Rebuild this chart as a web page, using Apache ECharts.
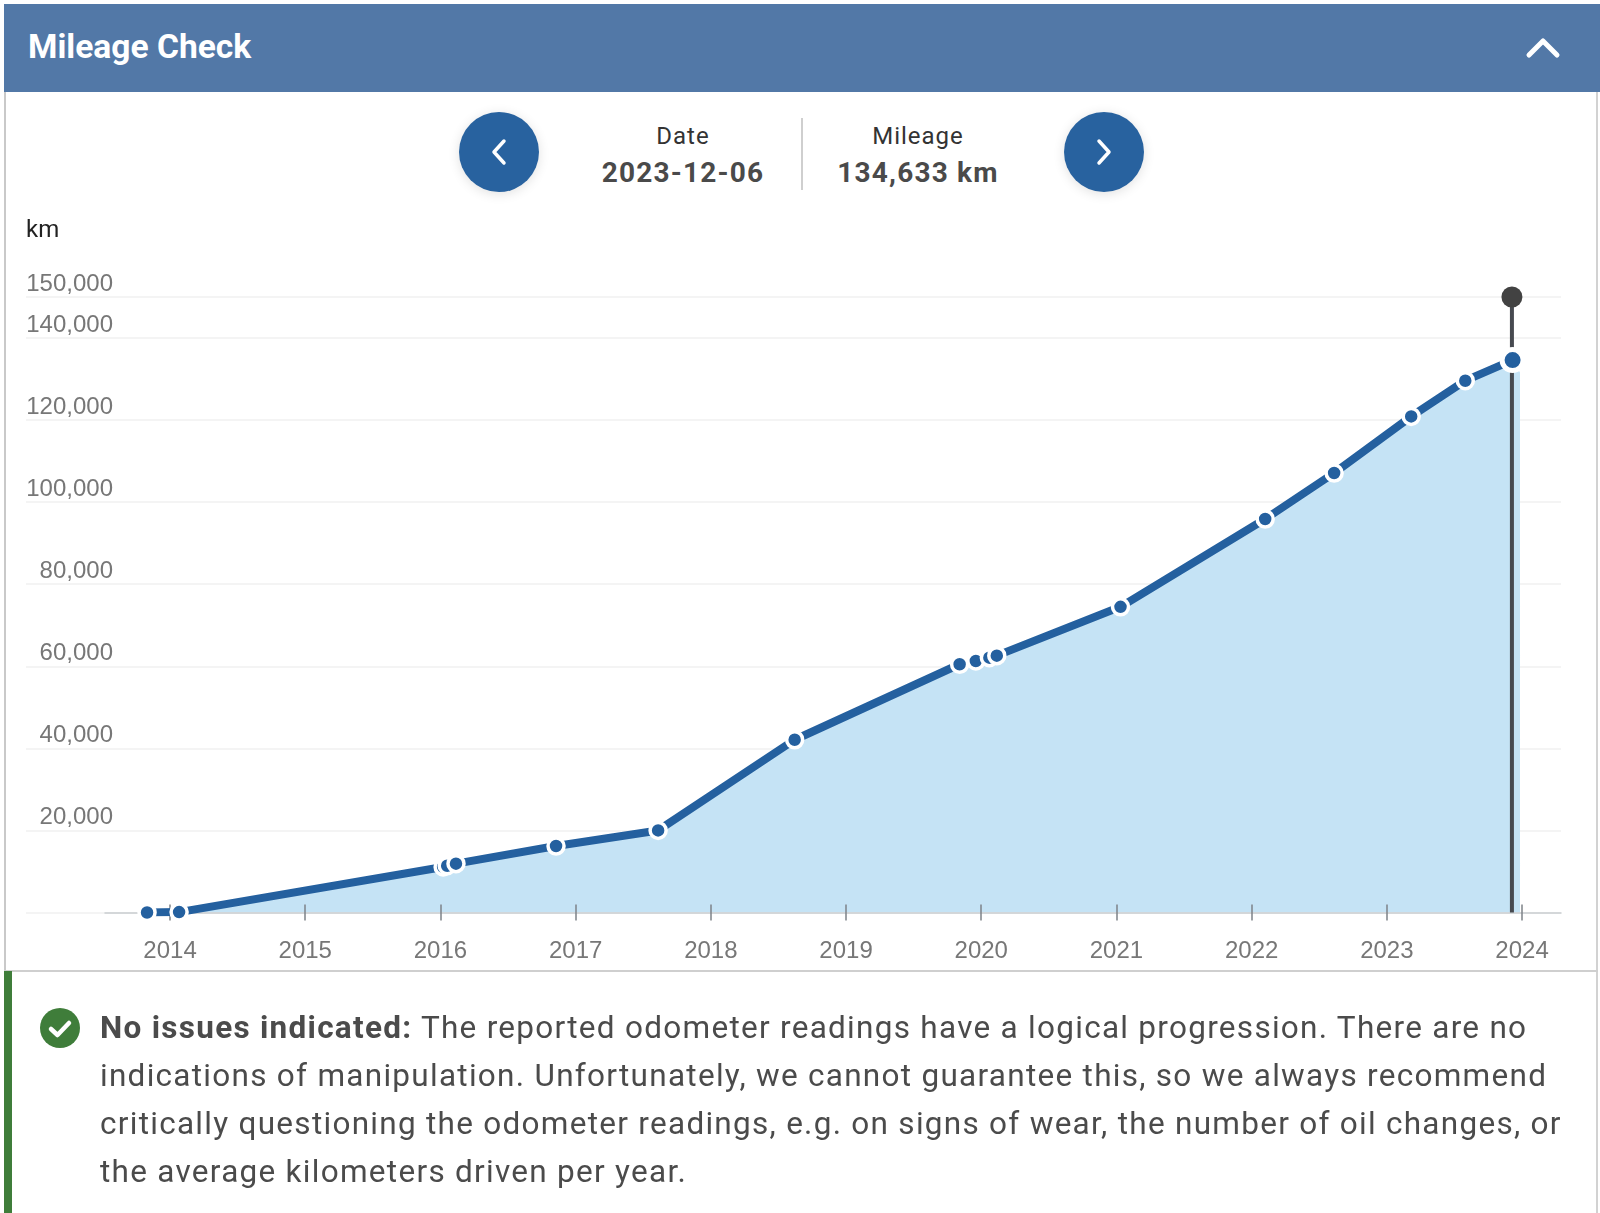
<!DOCTYPE html>
<html><head><meta charset="utf-8">
<script src="https://cdn.jsdelivr.net/npm/echarts@6/dist/echarts.min.js"></script>
<style>
html,body{margin:0;padding:0;background:#fff;width:1600px;height:1213px;overflow:hidden;font-family:Roboto,sans-serif}
.abs{position:absolute;white-space:nowrap}
#chart{position:absolute;left:0;top:0;width:1600px;height:1213px}
.cc{transform:translateX(-50%);text-align:center}
.btn{position:absolute;width:80px;height:80px;border-radius:50%;background:#28629f;box-shadow:0 2px 12px rgba(0,0,0,.12)}
.line{position:absolute;left:100px;font-size:31.5px;letter-spacing:1.28px;color:#4b4b4b;white-space:nowrap;line-height:48px;height:48px}
</style></head><body>
<div class="abs" style="left:4px;top:91px;width:1.5px;height:880px;background:#c9c9c9"></div>
<div class="abs" style="left:1596px;top:91px;width:2px;height:1122px;background:#d2d2d2"></div>
<div class="abs" style="left:4px;top:970px;width:1594px;height:2px;background:#cfcfcf"></div>
<div class="abs" style="left:4px;top:4px;width:1596px;height:88px;background:#5278a7"></div>
<div class="abs" style="left:28px;top:27px;font-size:33.6px;font-weight:700;color:#fff;line-height:40px">Mileage Check</div>
<svg class="abs" style="left:1520px;top:30px" width="46" height="34"><polyline points="9,25 23,11 37,25" fill="none" stroke="#fff" stroke-width="5" stroke-linecap="round" stroke-linejoin="round"/></svg>
<div class="btn" style="left:459px;top:112px"></div>
<svg class="abs" style="left:459px;top:112px" width="80" height="80"><polyline points="45,29 35,40 45,51" fill="none" stroke="#fff" stroke-width="3.5" stroke-linecap="round" stroke-linejoin="round"/></svg>
<div class="btn" style="left:1064px;top:112px"></div>
<svg class="abs" style="left:1064px;top:112px" width="80" height="80"><polyline points="35,29 45,40 35,51" fill="none" stroke="#fff" stroke-width="3.5" stroke-linecap="round" stroke-linejoin="round"/></svg>
<div class="abs cc" style="left:683px;top:122px;font-size:24px;letter-spacing:1px;color:#333;line-height:28px">Date</div>
<div class="abs cc" style="left:683px;top:155px;font-size:28px;font-weight:700;letter-spacing:1.2px;color:#4a4a4a;line-height:36px">2023-12-06</div>
<div class="abs" style="left:801px;top:118px;width:2px;height:72px;background:#cfcfcf"></div>
<div class="abs cc" style="left:918px;top:122px;font-size:24px;letter-spacing:1px;color:#333;line-height:28px">Mileage</div>
<div class="abs cc" style="left:918px;top:155px;font-size:28px;font-weight:700;letter-spacing:1.2px;color:#4a4a4a;line-height:36px">134,633 km</div>
<div id="chart"></div>
<div class="abs" style="left:4px;top:971px;width:8px;height:242px;background:#3f7d3a"></div>
<svg class="abs" style="left:40px;top:1008px" width="40" height="40"><circle cx="20" cy="20" r="20" fill="#3f7d3a"/><polyline points="11,21 17.5,27 29,15" fill="none" stroke="#fff" stroke-width="4.5" stroke-linecap="round" stroke-linejoin="round"/></svg>
<div class="line" style="top:1004px"><b>No issues indicated:</b> The reported odometer readings have a logical progression. There are no</div>
<div class="line" style="top:1052px">indications of manipulation. Unfortunately, we cannot guarantee this, so we always recommend</div>
<div class="line" style="top:1100px">critically questioning the odometer readings, e.g. on signs of wear, the number of oil changes, or</div>
<div class="line" style="top:1148px">the average kilometers driven per year.</div>
<script>
var readingYears = [2013.83,2014.067,2016.02,2016.05,2016.115,2016.855,2017.61,2018.62,2019.84,2019.96,2020.06,2020.115,2021.03,2022.10,2022.61,2023.18,2023.58,2023.93];
var readingKm    = [0,100,11100,11400,11900,16200,20000,42100,60500,61300,62100,62600,74500,95900,107100,120900,129600,134633];
var areaEnd      = [2023.985,131600];
var yearTicks    = [2014,2015,2016,2017,2018,2019,2020,2021,2022,2023,2024];
var cursorYear   = 2023.925;
var cursorTop    = 150000;

var mileage = readingYears.map(function(y,i){return [y,readingKm[i]];});
var area = mileage.slice(1).concat([areaEnd]);
var last = mileage.length-1;
var pts = mileage.map(function(p,i){
  return i===last ? {value:p,symbolSize:21,itemStyle:{borderWidth:5}} : {value:p};
});
var xMin=2013.519, xMax=2024.288;
var labelFont={fontFamily:'"Liberation Sans",Arial,sans-serif',fontSize:24,color:'#777'};
var chart=echarts.init(document.getElementById('chart'),null,{renderer:'canvas'});
chart.setOption({
  animation:false,
  tooltip:{show:false},
  grid:[
    {left:105,right:39,top:297,bottom:300.5,containLabel:false},
    {left:26,width:79,top:297,bottom:300.5,containLabel:false}
  ],
  xAxis:[
    {type:'value',gridIndex:0,min:xMin,max:xMax,position:'bottom',z:1.5,splitLine:{show:false},
     axisLine:{onZero:false,lineStyle:{color:'#c9cdd0',width:1.5}},
     axisTick:{show:true,length:8,customValues:yearTicks,lineStyle:{color:'#7d8288',width:1.5}},
     axisLabel:Object.assign({show:true,margin:27,customValues:yearTicks,formatter:function(v){return String(v);},hideOverlap:false,showMinLabel:true,showMaxLabel:true},labelFont)},
    {type:'value',gridIndex:0,min:xMin,max:xMax,position:'bottom',z:1.5,splitLine:{show:false},axisLine:{show:false},axisLabel:{show:false},
     axisTick:{show:true,inside:true,length:8,customValues:yearTicks,lineStyle:{color:'#7d8288',width:1.5}}},
    {type:'value',gridIndex:1,min:0,max:1,show:false}
  ],
  yAxis:[
    {type:'value',gridIndex:0,min:0,max:150000,interval:20000,axisLine:{show:false},axisTick:{show:false},
     splitLine:{show:true,lineStyle:{color:'#f0f0f0',width:1.5}},
     axisLabel:Object.assign({margin:-8,align:'right',verticalAlign:'bottom',padding:[0,0,1,0],showMaxLabel:true,
       formatter:function(v){return v===0?'':v.toLocaleString('en-US');}},labelFont)},
    {type:'value',gridIndex:1,min:0,max:150000,interval:20000,axisLine:{show:false},axisTick:{show:false},axisLabel:{show:false},
     splitLine:{show:true,lineStyle:{color:'#f0f0f0',width:1.5}},
     name:'km',nameLocation:'end',nameGap:66,nameTextStyle:{fontFamily:'Roboto,sans-serif',fontSize:24,color:'#222',align:'left',verticalAlign:'middle'}}
  ],
  series:[
    {name:'area',type:'line',xAxisIndex:0,yAxisIndex:0,z:1,data:area,showSymbol:false,symbol:'none',lineStyle:{width:0},areaStyle:{color:'#c5e3f5',opacity:1},silent:true},
    {name:'cursor',type:'line',xAxisIndex:0,yAxisIndex:0,z:2,
     data:[{value:[cursorYear,0],symbol:'none'},{value:[cursorYear,cursorTop],symbol:'circle',symbolSize:21}],
     showSymbol:true,showAllSymbol:true,
     lineStyle:{color:'#474a50',width:4},itemStyle:{color:'#424242',borderWidth:0},silent:true},
    {name:'Mileage',type:'line',xAxisIndex:0,yAxisIndex:0,z:3,data:pts,symbol:'circle',symbolSize:16,showSymbol:true,showAllSymbol:true,
     lineStyle:{color:'#24609f',width:8,cap:'butt'},itemStyle:{color:'#24609f',borderColor:'#fff',borderWidth:3.5,opacity:1},silent:true}
  ]
});
</script></body></html>
